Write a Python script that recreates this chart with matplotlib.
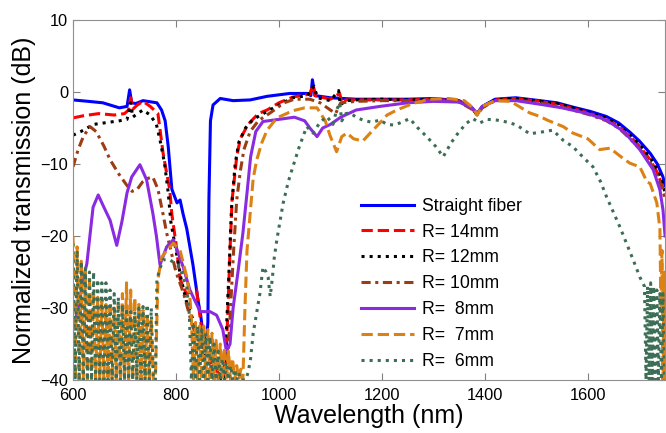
import matplotlib
matplotlib.use("Agg")
import matplotlib.pyplot as plt

plt.rcParams['font.family'] = ['Liberation Sans', 'DejaVu Sans']

# ---- straight fiber
wl_straight = [600, 630, 658, 690, 705, 710, 714, 722, 736, 763, 772, 779, 785, 792, 802, 808,
               814, 821, 833, 843, 848, 855, 860, 862, 864, 867, 872, 886, 911, 944, 977, 1021,
               1055, 1062, 1065, 1070, 1080, 1100,
               1150, 1200, 1250, 1300, 1350, 1375, 1385, 1395, 1420, 1460, 1507, 1540, 1571,
               1605, 1636, 1660, 1682, 1700, 1721, 1735, 1746, 1750]
db_straight = [-1.1, -1.3, -1.5, -2.2, -2.0, 0.3, -1.5, -1.6, -1.2, -1.5, -2.5, -4, -7.6, -13.5, -15.4, -15,
               -17, -19, -24, -29, -31, -35, -34, -32, -15, -4, -1.8, -0.9, -1.2, -1.1, -0.6, -0.2,
               -0.2, -0.5, 1.7, -0.5, -0.6, -0.8,
               -1.0, -1.0, -1.0, -0.9, -1.2, -2.2, -3.0, -2.0, -1.0, -0.8, -1.2, -1.5, -2.1,
               -2.7, -3.4, -4.3, -5.6, -6.8, -8.5, -10, -11.8, -13]

# common long-wavelength grid for R=14/12/10 mm
wl_tail = [1150, 1200, 1250, 1300, 1350, 1375, 1385, 1395, 1420, 1460, 1507, 1540, 1571,
           1605, 1636, 1660, 1682, 1700, 1721, 1735, 1746, 1750]

# ---- R = 14 mm
wl_r14 = [600, 620, 650, 680, 700, 708, 712, 716, 725, 736, 750, 765, 775, 782, 788, 792, 800,
          808, 820, 840, 850, 860, 870, 895, 900, 905, 909, 918, 925, 940, 960, 977, 1000,
          1027, 1060, 1066, 1070, 1100, 1118, 1122, 1130] + wl_tail
db_r14 = [-3.6, -3.3, -3.0, -3.2, -3.0, -2.5, -0.8, -2.4, -1.8, -1.3, -2.0, -3.0, -8.5, -11.3, -13.6, -17, -21,
          -26, -28, -27.5, -33, -36, -38, -40, -32, -22, -15, -9, -6.5, -4.5, -3, -2.5, -1.5,
          -0.7, -0.3, 1.0, -0.5, -1.0, -0.2, -1.5, -1.1,
          -1.1, -1.1, -1.1, -1.0, -1.3, -2.3, -3.1, -2.1, -1.1, -0.9, -1.3, -1.7, -2.3,
          -3.0, -3.8, -4.8, -6.2, -7.5, -9.4, -11.2, -13.3, -14.5]

# ---- R = 12 mm
wl_r12 = [600, 615, 640, 660, 690, 705, 712, 716, 725, 736, 750, 762, 770, 778, 785, 790, 800,
          810, 820, 830, 845, 860, 875, 895, 898, 903, 908, 915, 922, 935, 950, 977, 1000,
          1027, 1055, 1068, 1075, 1100, 1116, 1119, 1130] + wl_tail
db_r12 = [-6, -5.5, -4.5, -4.3, -4.0, -3.8, -1.5, -3.5, -3.0, -2.5, -3.2, -4.5, -7, -10, -14, -18, -22,
          -26, -29, -31, -34, -37, -40, -40, -33, -25, -16, -10, -7, -5, -3.8, -2.7, -1.8,
          -0.8, -0.5, 0.8, -0.8, -1.2, 0.2, -1.8, -1.2,
          -1.1, -1.0, -1.1, -1.0, -1.3, -2.3, -3.1, -2.1, -1.1, -0.9, -1.3, -1.6, -2.2,
          -2.9, -3.6, -4.6, -6.0, -7.3, -9.1, -10.8, -12.8, -14.0]

# ---- R = 10 mm
wl_r10 = [600, 610, 620, 633, 645, 660, 672, 690, 705, 715, 725, 735, 745, 755, 765, 775, 782,
          790, 800, 815, 830, 845, 860, 880, 900, 906, 912, 918, 925, 932, 944, 960, 985,
          1010, 1030, 1060, 1080, 1100, 1110, 1120] + wl_tail
db_r10 = [-10.4, -8, -6.2, -4.8, -5.5, -7.5, -9.4, -11.5, -13, -13.8, -13.5, -12.5, -12, -11.8, -13.5, -17, -19.6,
          -22, -25, -28, -32, -35, -36, -38, -38, -30, -22, -15, -11, -8, -5.5, -4, -2.8,
          -1.5, -1, -1, -1.5, -2.5, -3, -1.5,
          -1.3, -1.2, -1.2, -1.1, -1.4, -2.4, -3.2, -2.2, -1.2, -1.1, -1.5, -1.9, -2.5,
          -3.2, -4.0, -5.0, -6.5, -7.8, -9.8, -11.6, -13.6, -15]

# ---- R = 8 mm
wl_r8 = [600, 610, 620, 627, 639, 649, 660, 672, 685, 695, 705, 714, 730, 743, 755, 762, 769,
         782, 795, 814, 827, 847, 866, 879, 891, 898, 905, 911, 921, 930, 938, 945, 955, 969,
         1000, 1030, 1050, 1060, 1074, 1085, 1100, 1120, 1150, 1196, 1250, 1300, 1350, 1375,
         1385, 1395, 1420, 1460, 1507, 1550, 1600, 1636, 1670, 1701, 1727, 1740, 1746, 1750]
db_r8 = [-33, -30, -26, -23.8, -16, -14.3, -16, -17.8, -21.3, -18, -14, -11.8, -10.1, -12.2, -16.8, -20, -24,
         -21.5, -20.5, -24.3, -27.5, -30.5, -30.5, -31, -33, -36, -35, -30, -24.7, -19.6, -14, -9, -5.5, -4.1,
         -3.8, -3.5, -4, -5, -6.2, -5, -4.5, -3.5, -2.5, -2, -1.5, -1.3, -1.4, -2.2,
         -3.0, -2.0, -1.2, -1.2, -1.7, -2.2, -3, -3.9, -5.5, -8, -10.8, -13.6, -16.4, -20]

# ---- R = 7 mm (dense noise near floor at short wavelengths)
wl_r7_a = [600, 604, 608, 612, 616, 620, 624, 628, 632, 636, 640, 644, 648, 652, 656, 660, 664,
           668, 672, 676, 680, 684, 688, 692, 696, 700, 704, 708, 712, 716, 720, 724, 728, 732,
           736, 740, 744, 748, 752, 756]
db_r7_a = [-20, -40, -21.5, -40, -23.5, -40, -25, -40, -26.5, -40, -27.5, -40, -28.5, -40, -29, -40, -29.5,
           -40, -30, -40, -30, -40, -29.5, -40, -28, -40, -26.5, -40, -27.5, -40, -28.5, -40, -29.5, -40,
           -30.3, -40, -31, -40, -31.5, -40]
wl_r7_b = [760, 765, 772, 782, 795, 808, 815, 821, 827,
           830, 834, 838, 842, 846, 850, 854, 858, 862, 866, 870, 874, 878, 882, 886, 890, 894,
           898, 902, 906, 910, 914, 918, 922, 926]
db_r7_b = [-40, -26, -23, -22, -21, -22, -24, -25.7, -28.5,
           -31.5, -40, -32, -40, -32.5, -40, -32.5, -40, -33, -40, -33.5, -40, -34.5, -40, -35, -40, -35.5,
           -40, -36, -40, -37, -40, -38, -40, -38.5]
wl_r7_c = [930, 934, 938, 944, 950, 957, 967, 977, 996, 1027, 1050, 1074, 1090, 1099, 1112, 1122,
           1132, 1145, 1163, 1180, 1196, 1210, 1229, 1260, 1293, 1330, 1360, 1377, 1385, 1395,
           1420, 1450, 1487, 1507, 1521, 1552, 1571, 1600, 1623, 1643, 1668, 1682, 1701, 1715,
           1721, 1734, 1740, 1742, 1744, 1746, 1748, 1750]
db_r7_c = [-40, -30, -22, -17, -12, -9.4, -7, -5.3, -3.6, -2.6, -2.2, -2.2, -4, -6, -8.3, -6.2,
           -5.7, -6.5, -6.8, -5.5, -4.3, -3.2, -2.5, -1.6, -1.0, -0.9, -1.2, -2.2, -3.2, -2.0,
           -1.2, -1.3, -2.9, -3.4, -3.9, -4.8, -5.7, -6.5, -8, -7.8, -9.2, -9.9, -10.4, -12.5,
           -12.7, -15.4, -19, -30, -22, -40, -25, -40]

# ---- R = 6 mm
wl_r6_a = [600, 604, 608, 612, 616, 620, 624, 628, 632, 636, 640, 644, 648, 652, 656, 660, 664,
           668, 672, 676, 680, 684, 688, 692, 696, 700, 704, 708, 712, 716, 720, 724, 728, 732,
           736, 740, 744, 748, 752, 756]
db_r6_a = [-21, -40, -22, -40, -23.5, -40, -24.5, -40, -25, -40, -25, -40, -26, -40, -26.5, -40, -26.5,
           -40, -27.5, -40, -28, -40, -28.5, -40, -29.5, -40, -30, -40, -30.5, -40, -30.5, -40, -30, -40,
           -29.8, -40, -29.5, -40, -30, -40]
wl_r6_b = [760, 763, 770, 775, 788, 798, 808, 815, 821,
           826, 830, 834, 838, 842, 846, 850, 854, 858, 862, 866, 870, 874, 878, 882, 886, 890,
           894, 898, 902, 906, 910, 914, 918, 922]
db_r6_b = [-40, -26, -24.3, -23.3, -23.3, -23.8, -24.3, -26, -27,
           -31, -40, -32, -40, -32.5, -40, -33, -40, -33.5, -40, -34, -40, -35, -40, -36, -40, -37,
           -40, -37.5, -40, -38, -40, -38.5, -40, -39]
wl_r6_c = [926, 935, 940, 945, 950, 957, 963, 969, 975, 979, 983, 987, 991, 996, 1002, 1008,
           1018, 1027, 1040, 1054, 1066, 1080, 1093, 1105, 1112, 1118, 1122, 1130, 1138, 1150,
           1163, 1180, 1196, 1210, 1225, 1254, 1270, 1287, 1305, 1319, 1335, 1350, 1365, 1377,
           1390, 1405, 1423, 1445, 1462, 1487, 1507, 1532, 1552, 1571, 1590, 1610, 1625, 1636,
           1649, 1662, 1675, 1688, 1701, 1710,
           1713, 1716, 1719, 1722, 1725, 1728, 1731, 1734, 1737, 1740, 1743, 1746, 1749]
db_r6_c = [-40, -40, -39, -37, -33.5, -30.5, -28, -24.3, -25, -25.7, -28.4, -26, -23, -20.5, -18, -15.5,
           -12.5, -10.4, -7.5, -4.8, -5.7, -4.2, -3.4, -4.5, -2.5, -1.5, -4, -3, -2.9, -3.5,
           -3.9, -4.2, -3.9, -4.5, -4.6, -3.7, -5, -6.2, -7.6, -9, -7, -5.5, -4.3, -3.7,
           -4.3, -3.8, -3.9, -4.2, -4.6, -5.8, -5.6, -5.3, -6.7, -7.6, -9, -10.4, -12.5, -14.5,
           -16.6, -18.7, -21, -23.3, -25.7, -27,
           -40, -27, -40, -26.5, -40, -27, -40, -27.5, -40, -28, -40, -28, -40]

wl_r7 = wl_r7_a + wl_r7_b + wl_r7_c
db_r7 = db_r7_a + db_r7_b + db_r7_c
wl_r6 = wl_r6_a + wl_r6_b + wl_r6_c
db_r6 = db_r6_a + db_r6_b + db_r6_c

fig = plt.figure(figsize=(6.66, 4.33), dpi=100)
ax = fig.add_axes([0.1096, 0.1224, 0.889, 0.8314])

lw = 2.2
ax.plot(wl_straight, db_straight, color='#0000ff', lw=lw, label='Straight fiber')
ax.plot(wl_r14, db_r14, color='#ff0000', lw=lw, ls='--', label='R= 14mm')
ax.plot(wl_r12, db_r12, color='#000000', lw=lw, ls=':', label='R= 12mm')
ax.plot(wl_r10, db_r10, color='#9c3c14', lw=lw, ls=(0, (3, 1.5, 1, 1.5)), label='R= 10mm')
ax.plot(wl_r8, db_r8, color='#8a2be2', lw=lw, label='R=  8mm')
ax.plot(wl_r7, db_r7, color='#dc8214', lw=lw, ls='--', label='R=  7mm')
ax.plot(wl_r6, db_r6, color='#3c6e55', lw=lw, ls=':', label='R=  6mm')

ax.set_xlim(600, 1750)
ax.set_ylim(-40, 10)
ax.set_xticks([600, 800, 1000, 1200, 1400, 1600])
ax.set_yticks([-40, -30, -20, -10, 0, 10])
ax.tick_params(direction='in', top=True, right=True, length=5, width=0.8,
               color='#808080', labelsize=11.8)
ax.tick_params(axis='x', pad=6)
ax.tick_params(axis='y', pad=3.5)
for s in ax.spines.values():
    s.set_color('#909090')
    s.set_linewidth(0.8)

ax.set_xlabel('Wavelength (nm)', fontsize=18)
ax.set_ylabel('Normalized transmission (dB)', fontsize=18)
ax.xaxis.set_label_coords(0.5, -0.066)
ax.yaxis.set_label_coords(-0.063, 0.5)

ax.legend(loc='upper left', bbox_to_anchor=(0.486, 0.506), frameon=False,
          fontsize=12.7, handlelength=3.0, handletextpad=0.45, labelspacing=0.5,
          borderpad=0, borderaxespad=0)

fig.savefig('out.png', dpi=100)
